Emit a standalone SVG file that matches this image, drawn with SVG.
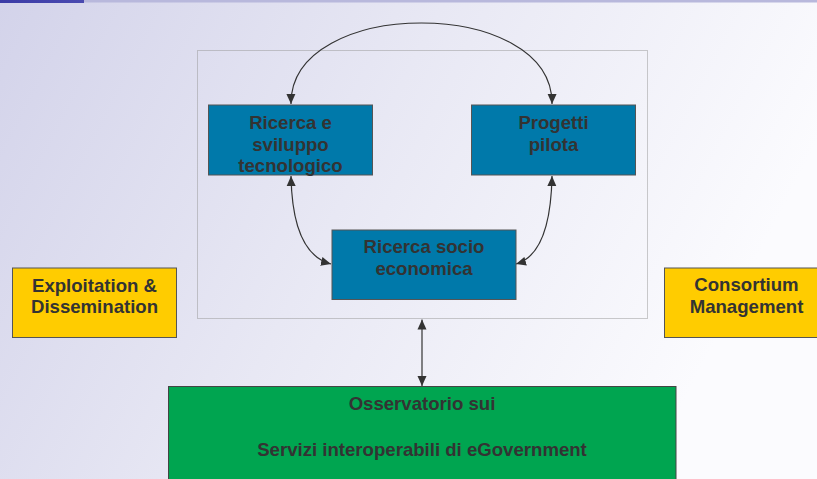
<svg xmlns="http://www.w3.org/2000/svg" width="817" height="479" viewBox="0 0 817 479">
<defs>
<linearGradient id="bg" x1="0" y1="0" x2="1" y2="0.3">
<stop offset="0" stop-color="#d3d3ea"/>
<stop offset="0.5" stop-color="#e8e8f4"/>
<stop offset="1" stop-color="#fbfbfe"/>
</linearGradient>
<linearGradient id="bar" x1="0" y1="0" x2="1" y2="0">
<stop offset="0" stop-color="#3b3ba6"/>
<stop offset="1" stop-color="#4a4ab0"/>
</linearGradient>
<marker id="ah" viewBox="0 0 10 10" refX="10" refY="5" markerWidth="10" markerHeight="10" markerUnits="userSpaceOnUse" orient="auto-start-reverse">
<path d="M0,0.5 L10,5 L0,9.5 z" fill="#333"/>
</marker>
<style>
text{font-family:"Liberation Sans",Arial,sans-serif;font-weight:bold;font-size:18.6px;fill:#333;text-anchor:middle}
.blue{fill:#0079aa;stroke:#555;stroke-width:1}
.yel{fill:#ffcc00;stroke:#555;stroke-width:1}
.grn{fill:#00a550;stroke:#444;stroke-width:1}
.con{fill:none;stroke:#333;stroke-width:1.2;marker-start:url(#ah);marker-end:url(#ah)}
</style>
</defs>
<rect width="817" height="479" fill="url(#bg)"/>
<rect x="0" y="0" width="817" height="2.5" fill="#b8b8dc"/>
<rect x="0" y="0" width="84" height="3" fill="url(#bar)"/>
<rect x="197.5" y="50.5" width="450" height="268" fill="none" stroke="#999" stroke-width="1" stroke-dasharray="1,1"/>
<g id="connectors">
<path class="con" d="M291,104 C290,-4 553,-4 552,104"/>
<path class="con" d="M291,176 C292,232 308,258 331,264"/>
<path class="con" d="M552,176 C551,232 537,258 516,264"/>
<path class="con" d="M422,319.5 L422,386"/>
</g>
<g id="ricerca-sviluppo">
<rect class="blue" x="208.5" y="105" width="164" height="70"/>
<text x="290.5" y="129">Ricerca e</text>
<text x="290.5" y="150.5">sviluppo</text>
<text x="290.5" y="172">tecnologico</text>
</g>
<g id="progetti-pilota">
<rect class="blue" x="471.5" y="105" width="164" height="70"/>
<text x="553.5" y="129">Progetti</text>
<text x="553.5" y="150.5">pilota</text>
</g>
<g id="ricerca-socio">
<rect class="blue" x="332" y="230" width="184" height="69.5"/>
<text x="424" y="253">Ricerca socio</text>
<text x="424" y="275">economica</text>
</g>
<g id="exploitation">
<rect class="yel" x="12.5" y="268" width="164" height="69.5"/>
<text x="94.5" y="292">Exploitation &amp;</text>
<text x="94.5" y="313">Dissemination</text>
</g>
<g id="consortium">
<rect class="yel" x="664.5" y="268" width="164" height="69.5"/>
<text x="746.5" y="291">Consortium</text>
<text x="746.5" y="313">Management</text>
</g>
<g id="osservatorio">
<rect class="grn" x="168.5" y="386.5" width="507.5" height="100"/>
<text x="422" y="410">Osservatorio sui</text>
<text x="422" y="455.5">Servizi interoperabili di eGovernment</text>
</g>
</svg>
